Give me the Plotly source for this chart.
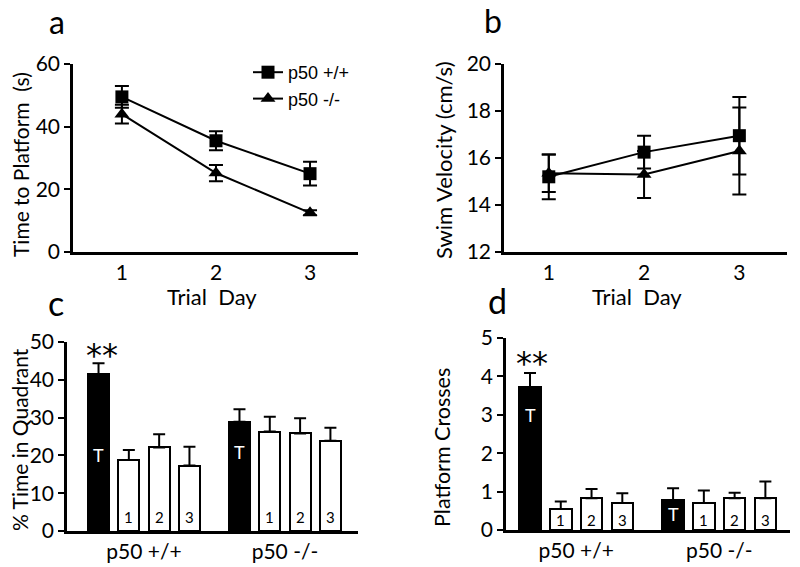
import plotly.graph_objects as go

# ---------------- data ----------------
days = [1, 2, 3]
# panel a: time to platform (s)
a_wt = [49.5, 35.5, 25.0]
a_wt_err = [3.5, 3.0, 3.8]
a_ko = [44.0, 25.2, 12.5]
a_ko_err = [3.0, 2.6, 0.8]
# panel b: swim velocity (cm/s)
b_wt = [15.2, 16.25, 16.95]
b_wt_err = [0.95, 0.7, 1.65]
b_ko = [15.35, 15.3, 16.3]
b_ko_err = [0.8, 1.0, 1.85]

groups = ["p50 +/+", "p50 -/-"]
quadrants = ["T", "1", "2", "3"]
# panel c: % time in quadrant (T, 1, 2, 3) per genotype
c_vals = [41.5, 18.8, 22.1, 17.3, 28.9, 26.3, 25.8, 23.9]
c_err = [2.9, 2.6, 3.5, 5.0, 3.3, 3.9, 4.0, 3.4]
# panel d: platform crosses
d_vals = [3.72, 0.55, 0.83, 0.70, 0.77, 0.70, 0.83, 0.83]
d_err = [0.37, 0.19, 0.24, 0.26, 0.32, 0.33, 0.14, 0.43]

FONT = "Lato"
BLACK = "#000000"

fig = go.Figure()

# ---------------- line panels ----------------
def line_trace(x, y, err, symbol, name, xa, ya, show):
    return go.Scatter(
        x=x, y=y, mode="lines+markers", name=name,
        line=dict(color=BLACK, width=2),
        marker=dict(symbol=symbol, size=13, color=BLACK),
        error_y=dict(type="data", array=err, visible=True, color=BLACK,
                     thickness=2, width=7),
        xaxis=xa, yaxis=ya, showlegend=show,
    )

fig.add_trace(line_trace(days, a_wt, a_wt_err, "square", "p50 +/+", "x", "y", True))
fig.add_trace(line_trace(days, a_ko, a_ko_err, "triangle-up", "p50 -/-", "x", "y", True))
fig.add_trace(line_trace(days, b_wt, b_wt_err, "square", "p50 +/+", "x2", "y2", False))
fig.add_trace(line_trace(days, b_ko, b_ko_err, "triangle-up", "p50 -/-", "x2", "y2", False))

# ---------------- bar panels ----------------
GAP = 0.65
labels = [q for g in groups for q in quadrants]
pos = [i + (i // len(quadrants)) * GAP for i in range(len(labels))]
colors = [BLACK if q == "T" else "white" for q in labels]
group_centers = [sum(pos[k * 4:(k + 1) * 4]) / 4 for k in range(len(groups))]

def bar_trace(vals, err, xa, ya, width):
    return go.Bar(
        x=pos, y=vals, width=width,
        marker=dict(color=colors, line=dict(color=BLACK, width=2)),
        error_y=dict(type="data", symmetric=False, array=err,
                     arrayminus=[0] * len(err), visible=True, color=BLACK,
                     thickness=2, width=6),
        xaxis=xa, yaxis=ya, showlegend=False,
    )

fig.add_trace(bar_trace(c_vals, c_err, "x3", "y3", 0.69))
fig.add_trace(bar_trace(d_vals, d_err, "x4", "y4", 0.70))

# ---------------- geometry (page has an 8px body margin) ----------------
OFF = 8
W, H = 800 - OFF, 567 - OFF
def px(x):
    return (x - OFF) / W
def py(y):
    return 1 - (y - OFF) / H
def xd(l, r):
    return [px(l), px(r)]
def yd(t, b):
    return [py(b), py(t)]

tickfont = dict(family=FONT, size=21, color=BLACK)
common = dict(showline=True, linecolor=BLACK, linewidth=2.5, showgrid=False,
              zeroline=False, tickfont=tickfont, tickcolor=BLACK)

fig.update_layout(
    width=W, height=H, margin=dict(l=0, r=0, t=0, b=0, pad=0, autoexpand=False),
    paper_bgcolor="white", plot_bgcolor="white",
    font=dict(family=FONT, color=BLACK),
    bargap=0,
    xaxis=dict(domain=xd(73, 358), range=[0.48, 3.51], tickvals=days,
               ticks="", anchor="y", **common),
    yaxis=dict(domain=yd(64, 252), range=[0, 60], tickvals=[0, 20, 40, 60],
               ticks="outside", ticklen=6, tickwidth=2, anchor="x", **common),
    xaxis2=dict(domain=xd(504, 787), range=[0.53, 3.5], tickvals=days,
                ticks="", anchor="y2", **common),
    yaxis2=dict(domain=yd(64, 252), range=[12, 20], tickvals=[12, 14, 16, 18, 20],
                ticks="outside", ticklen=6, tickwidth=2, anchor="x2", **common),
    xaxis3=dict(domain=xd(67, 358), range=[-1.04, 8.56], tickvals=group_centers,
                ticktext=groups, ticks="", anchor="y3", **common),
    yaxis3=dict(domain=yd(342, 531), range=[0, 50], tickvals=[0, 10, 20, 30, 40, 50],
                ticks="outside", ticklen=6, tickwidth=2, anchor="x3", **common),
    xaxis4=dict(domain=xd(506, 790), range=[-0.78, 8.45], tickvals=group_centers,
                ticktext=groups, ticks="", anchor="y4", **common),
    yaxis4=dict(domain=yd(338, 530), range=[0, 5], tickvals=[0, 1, 2, 3, 4, 5],
                ticks="outside", ticklen=6, tickwidth=2, anchor="x4", **common),
    legend=dict(x=px(248), y=py(54), xanchor="left", yanchor="top",
                font=dict(family="Liberation Sans", size=18, color=BLACK),
                bgcolor="rgba(0,0,0,0)", tracegroupgap=0, itemwidth=30),
)

ann = []
def text(x, y, s, size, angle=0, color=BLACK, xref="paper", yref="paper", family=FONT):
    ann.append(dict(x=x, y=y, xref=xref, yref=yref, text=s, showarrow=False,
                    textangle=angle, xanchor="center", yanchor="middle",
                    font=dict(family=family, size=size, color=color)))

# panel letters
text(px(57), py(21), "a", 32)
text(px(493), py(20), "b", 32)
text(px(56), py(302), "c", 34)
text(px(497), py(300), "d", 34)

# axis titles
text(px(21), py(165), "Time to Platform  (s)", 21, -90)
text(px(443), py(160), "Swim Velocity (cm/s)", 22, -90)
text(px(19), py(440), "% Time in Quadrant", 21, -90)
text(px(442), py(448), "Platform Crosses", 21.5, -90)
text(px(212), py(297), "Trial  Day", 22)
text(px(637), py(297), "Trial  Day", 22)

# bar labels
c_label_y = [20.0, 3.7, 3.7, 3.7, 21.0, 3.7, 3.7, 3.7]
d_label_y = [3.0, 0.26, 0.26, 0.26, 0.42, 0.26, 0.26, 0.26]
for p, lab, cy, dy in zip(pos, labels, c_label_y, d_label_y):
    col = "white" if lab == "T" else BLACK
    size = 18 if lab == "T" else 15
    text(p, cy, lab, size, color=col, xref="x3", yref="y3")
    text(p, dy, lab, size, color=col, xref="x4", yref="y4")

# significance stars
text(pos[0] + 0.1, 46.6, "**", 32, xref="x3", yref="y3", family="DejaVu Sans")
text(pos[0] + 0.06, 4.36, "**", 32, xref="x4", yref="y4", family="DejaVu Sans")

fig.update_layout(annotations=ann)
fig.write_html("out.html")
